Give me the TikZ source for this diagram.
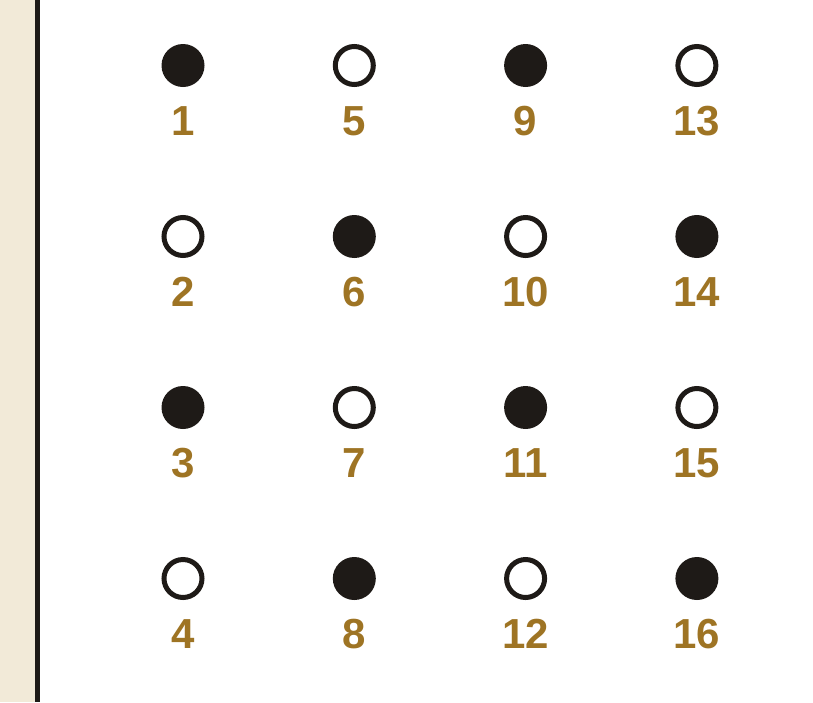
\documentclass[tikz,border=0pt]{standalone}
\usepackage{fontspec}
\setmainfont{Liberation Sans}
\definecolor{beige}{HTML}{F2EAD8}
\definecolor{ink}{HTML}{1E1A17}
\definecolor{gold}{HTML}{9E7424}
\tikzset{
    full/.style={circle, fill=ink, inner sep=0pt, minimum size=43pt},
    hollow/.style={circle, draw=ink, line width=5pt, fill=white, inner sep=0pt, minimum size=38pt},
    num/.style={text=gold, font=\bfseries\fontsize{42}{42}\selectfont, inner sep=0pt, anchor=base}
}
\begin{document}
\begin{tikzpicture}[x=1pt,y=-1pt]
    \useasboundingbox (0,0) rectangle (813,702);
    \fill[beige] (0,0) rectangle (36,702);
    \draw[ink, line width=5pt] (37,0) -- (37,702);

    \foreach \c in {0,...,3} {
        \foreach \r in {0,...,3} {
            \pgfmathtruncatemacro{\n}{4*\c+\r+1}
            \pgfmathtruncatemacro{\p}{mod(\c+\r,2)}
            \ifnum\p=0
                \node[full] (dot\n) at ({183+171.3*\c},{65.5+171*\r}) {};
            \else
                \node[hollow] (dot\n) at ({183+171.3*\c},{65.5+171*\r}) {};
            \fi
            \node[num] (lab\n) at ([yshift=-69.5pt]dot\n.center) {\n};
        }
    }
\end{tikzpicture}
\end{document}
